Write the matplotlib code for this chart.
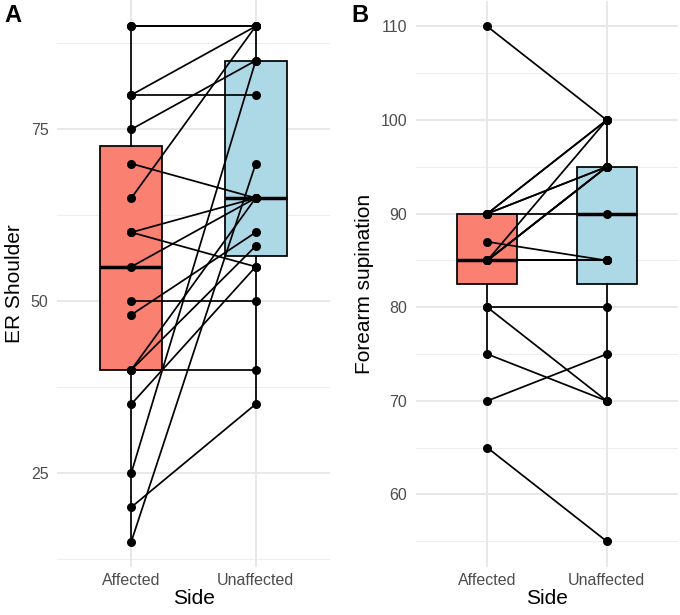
import matplotlib
matplotlib.use("Agg")
import matplotlib.pyplot as plt
import numpy as np

# ---- data ----
sides = ["Affected", "Unaffected"]

er_affected   = [90, 90, 80, 80, 75, 70, 65, 60, 60, 55, 50, 48, 40, 40, 40, 35, 25, 20, 15]
er_unaffected = [90, 90, 90, 80, 85, 65, 90, 65, 55, 65, 50, 60, 40, 65, 58, 55, 85, 35, 70]

sup_affected   = [110, 90, 90, 90, 90, 90, 87, 85, 85, 85, 85, 85, 85, 85, 80, 80, 75, 70, 65]
sup_unaffected = [100, 100, 100, 95, 95, 90, 85, 100, 95, 95, 95, 85, 85, 85, 80, 70, 70, 75, 55]

er_ticks = [25, 50, 75]
er_minor = [12.5, 37.5, 62.5, 87.5]
sup_ticks = [60, 70, 80, 90, 100, 110]
sup_minor = [55, 65, 75, 85, 95, 105]

box_colors = ["#FA8072", "#ADD8E6"]

plt.rcParams['font.family'] = ['Liberation Sans', 'DejaVu Sans']

fig = plt.figure(figsize=(6.8, 6.15), dpi=100)
axA = fig.add_axes([0.0834, 0.0776, 0.4024, 0.9216])
axB = fig.add_axes([0.6113, 0.0780, 0.3862, 0.9208])


def panel(ax, aff, unaff, ylabel, yticks, yminor, ylim):
    ax.set_facecolor("white")
    for s in ax.spines.values():
        s.set_visible(False)
    # grid
    for y in yminor:
        ax.axhline(y, color="#EBEBEB", lw=0.6, zorder=0)
    for y in yticks:
        ax.axhline(y, color="#E6E6E6", lw=1.3, zorder=0)
    for x in [1, 2]:
        ax.axvline(x, color="#E6E6E6", lw=1.3, zorder=0)

    bp = ax.boxplot([aff, unaff], positions=[1, 2], widths=0.5, whis=1.5,
                    showfliers=False, patch_artist=True,
                    medianprops=dict(color="black", lw=2.5),
                    whiskerprops=dict(color="black", lw=1.25),
                    capprops=dict(lw=0),
                    boxprops=dict(edgecolor="black", lw=1.25),
                    zorder=1)
    for patch, c in zip(bp["boxes"], box_colors):
        patch.set_facecolor(c)
    for a, u in zip(aff, unaff):
        ax.plot([1, 2], [a, u], color="black", lw=1.25, zorder=2)
    ax.scatter([1] * len(aff), aff, s=30, color="black", zorder=3)
    ax.scatter([2] * len(unaff), unaff, s=30, color="black", zorder=3)

    ax.set_xlim(0.4, 2.6)
    ax.set_ylim(*ylim)
    ax.set_xticks([1, 2])
    ax.set_xticklabels(sides)
    ax.set_yticks(yticks)
    ax.tick_params(axis="both", length=0, labelsize=11.5, labelcolor="#4D4D4D")
    ax.tick_params(axis="y", pad=6)
    ax.tick_params(axis="x", pad=4)
    ax.set_xlabel("Side", fontsize=15, labelpad=1)
    ax.set_ylabel(ylabel, fontsize=15, labelpad=5)


lo, hi = min(er_affected + er_unaffected), max(er_affected + er_unaffected)
pad = (hi - lo) * 0.05
panel(axA, er_affected, er_unaffected, "ER Shoulder", er_ticks, er_minor, (lo - pad, hi + pad))
lo, hi = min(sup_affected + sup_unaffected), max(sup_affected + sup_unaffected)
pad = (hi - lo) * 0.05
panel(axB, sup_affected, sup_unaffected, "Forearm supination", sup_ticks, sup_minor, (lo - pad, hi + pad))

fig.text(0.006, 0.993, "A", fontsize=17, fontweight="bold", va="top", ha="left")
fig.text(0.516, 0.993, "B", fontsize=17, fontweight="bold", va="top", ha="left")

fig.savefig("out.png", dpi=100)
